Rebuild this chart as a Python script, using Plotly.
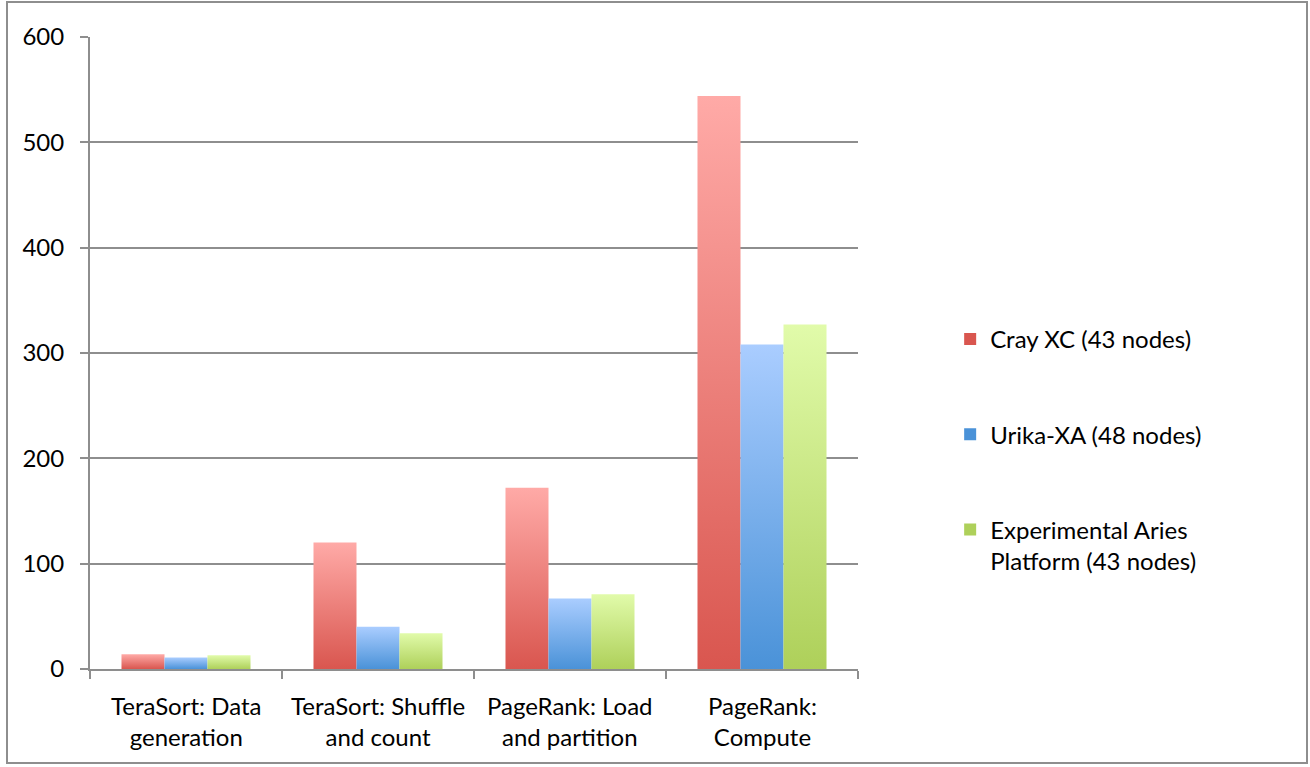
import plotly.graph_objects as go

# Benchmark phases (x categories) and runtimes per platform
categories = ["TeraSort: Data<br>generation", "TeraSort: Shuffle<br>and count",
              "PageRank: Load<br>and partition", "PageRank:<br>Compute"]
series_names = ["Cray XC (43 nodes)", "Urika-XA (48 nodes)",
                "Experimental Aries<br>Platform (43 nodes)"]
cray_xc = [14, 120, 172, 544]
urika_xa = [11, 40, 67, 308]
aries = [13, 34, 71, 327]
y_ticks = [0, 100, 200, 300, 400, 500, 600]

series_values = [cray_xc, urika_xa, aries]
# (bottom colour, top colour) for each series' vertical gradient
gradients = [("#d9564f", "#ffaaa7"), ("#4a92d8", "#aacdff"), ("#aed05a", "#e1fbaa")]

BAR_W = 0.224
offsets = [-BAR_W, 0.0, BAR_W]
FONT = "Lato"
FS = 24

fig = go.Figure()

for s, (name, vals) in enumerate(zip(series_names, series_values)):
    lo, hi = gradients[s]
    for i, v in enumerate(vals):
        xc = i + offsets[s]
        x0, x1 = xc - BAR_W / 2, xc + BAR_W / 2
        fig.add_trace(go.Scatter(
            x=[x0, x1, x1, x0, x0], y=[0, 0, v, v, 0],
            mode="lines", line=dict(width=0), fill="toself",
            fillgradient=dict(type="vertical", colorscale=[[0, lo], [1, hi]]),
            hoverinfo="skip", showlegend=False,
        ))
    # legend entry for the series
    fig.add_trace(go.Bar(
        x=[None], y=[None], name=name,
        marker=dict(color=lo, line=dict(width=0)),
        legendgroup=f"g{s}", showlegend=True,
    ))

# category labels under each group
for i, lab in enumerate(categories):
    fig.add_annotation(x=i, y=0, xref="x", yref="y", yshift=-20, yanchor="top",
                       text=lab, showarrow=False,
                       font=dict(size=FS, color="#000000", family=FONT))

grid = "#8e8e8e"
fig.update_layout(
    width=1310, height=767,
    margin=dict(l=90, r=452, t=37, b=98),
    paper_bgcolor="white", plot_bgcolor="white",
    font=dict(family=FONT, size=FS, color="#000000"),
    xaxis=dict(range=[-0.5, 3.5], tickvals=[-0.5, 0.5, 1.5, 2.5, 3.5],
               ticktext=["", "", "", "", ""], ticks="outside", ticklen=8,
               tickwidth=2, tickcolor=grid, showgrid=False, zeroline=False,
               showline=True, linecolor=grid, linewidth=2, fixedrange=True),
    yaxis=dict(range=[0, 600], tickvals=y_ticks, ticks="outside", ticklen=8,
               tickwidth=2, tickcolor=grid, showgrid=True, gridcolor=grid,
               gridwidth=2, zeroline=False, showline=True, linecolor=grid,
               linewidth=2, ticklabelstandoff=11, fixedrange=True),
    legend=dict(x=1.12, xanchor="left", y=0.557, yanchor="top",
                font=dict(size=FS, family=FONT), tracegroupgap=61,
                valign="top", itemwidth=30, bgcolor="rgba(0,0,0,0)"),
    showlegend=True,
)

# outer frame
fig.add_shape(type="rect", xref="paper", yref="paper",
              x0=(7 - 90) / 768, x1=(1307 - 90) / 768,
              y0=(669 - 763) / 632, y1=(669 - 2) / 632,
              line=dict(color=grid, width=2), fillcolor="rgba(0,0,0,0)")

fig.write_html("out.html")
